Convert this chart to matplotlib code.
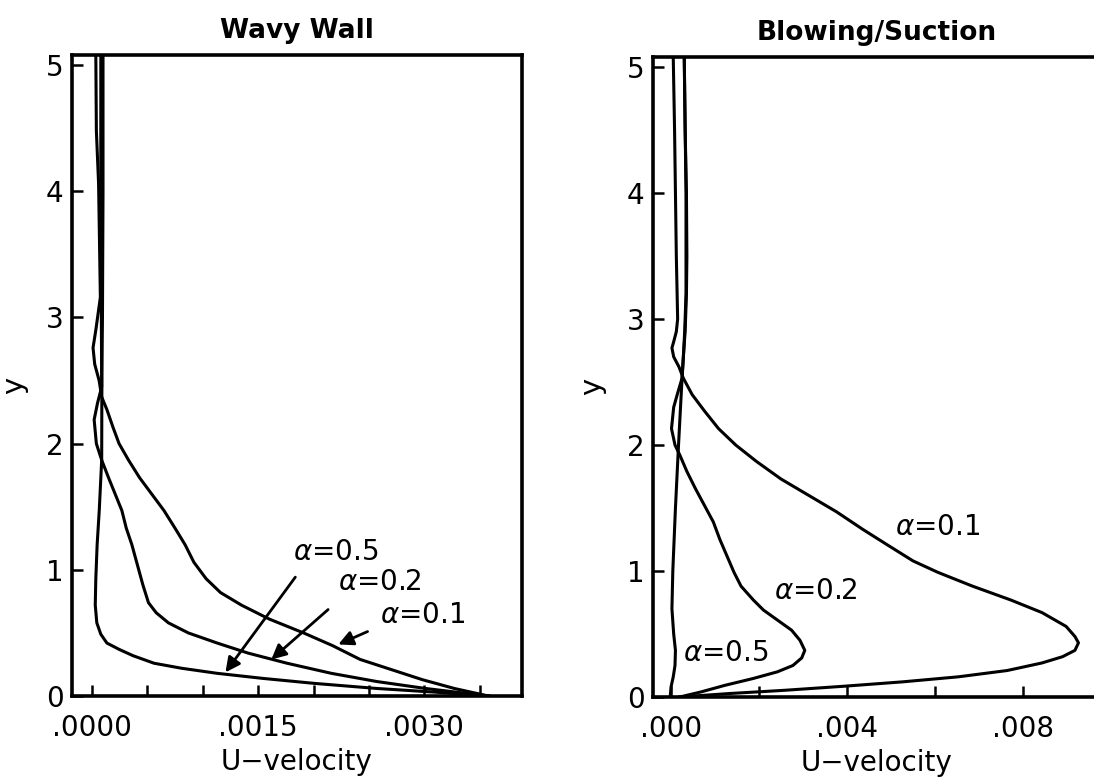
import matplotlib
matplotlib.use("Agg")
import matplotlib.pyplot as plt

plt.rcParams['font.family'] = ['DejaVu Sans']
plt.rcParams['mathtext.fontset'] = 'dejavusans'

# ---- Wavy wall profiles: (y, U) ----
wavy_y_01 = [5.08, 4.48, 4.06, 3.16, 2.9, 2.76, 2.63, 2.5, 2.37, 2.27, 2.13, 2.0, 1.87, 1.73, 1.60, 1.47, 1.33,
             1.20, 1.06, 0.93, 0.82, 0.72, 0.61, 0.50, 0.40, 0.29, 0.21, 0.13, 0.06, 0.0]
wavy_u_01 = [0.000035, 0.00004, 0.00006, 0.000076, 0.000035, 0.00001, 0.000025, 0.000065, 0.000088, 0.000135,
             0.00019, 0.000245, 0.00033, 0.00043, 0.00054, 0.00065, 0.00075, 0.00084, 0.00092, 0.00103, 0.00116,
             0.00135, 0.0016, 0.00191, 0.00217, 0.00242, 0.0027, 0.00298, 0.00327, 0.00358]

wavy_y_02 = [5.08, 4.0, 3.0, 2.45, 2.32, 2.19, 2.0, 1.87, 1.73, 1.60, 1.47, 1.33, 1.20, 1.04, 0.88, 0.74, 0.66,
             0.58, 0.50, 0.42, 0.34, 0.26, 0.18, 0.115, 0.06, 0.0]
wavy_u_02 = [0.00008, 0.00008, 0.000085, 0.000088, 0.00005, 0.00002, 0.00004, 0.000088, 0.00015, 0.00021, 0.00027,
             0.00031, 0.00036, 0.00041, 0.00046, 0.00051, 0.00058, 0.00069, 0.00087, 0.00113, 0.00141, 0.00176,
             0.00216, 0.00257, 0.00301, 0.00358]

wavy_y_05 = [5.08, 4.0, 3.0, 2.54, 1.87, 1.47, 1.20, 0.93, 0.72, 0.58, 0.49, 0.42, 0.37, 0.32, 0.26, 0.22, 0.18,
             0.14, 0.10, 0.06, 0.03, 0.0]
wavy_u_05 = [0.0001, 0.0001, 0.000095, 0.00009, 0.000088, 0.000066, 0.000047, 0.000035, 0.00003, 0.000044, 0.00008,
             0.000135, 0.000245, 0.00037, 0.00056, 0.00081, 0.00113, 0.00154, 0.00201, 0.00257, 0.00311, 0.00358]

# ---- Blowing/suction profiles ----
blow_y_01 = [5.08, 4.5, 4.0, 3.5, 3.0, 2.9, 2.82, 2.77, 2.7, 2.62, 2.53, 2.4, 2.27, 2.13, 2.0, 1.87, 1.73, 1.6,
             1.47, 1.33, 1.2, 1.08, 0.99, 0.88, 0.77, 0.67, 0.56, 0.48, 0.43, 0.37, 0.32, 0.27, 0.21, 0.16, 0.12,
             0.085, 0.053, 0.027, 0.0]
blow_u_01 = [0.00005, 0.00008, 0.0001, 0.00012, 0.00015, 0.00012, 0.00006, 0.00002, 0.00006, 0.00018, 0.00028,
             0.00048, 0.00076, 0.00108, 0.00147, 0.00194, 0.0025, 0.00313, 0.00376, 0.00436, 0.00495, 0.0055,
             0.00606, 0.00685, 0.00772, 0.00843, 0.00898, 0.00918, 0.00926, 0.00918, 0.0089, 0.00843, 0.00764,
             0.00653, 0.00526, 0.00392, 0.00258, 0.00131, 0.0002]

blow_y_02 = [5.08, 4.5, 4.0, 3.5, 3.2, 2.9, 2.7, 2.53, 2.4, 2.3, 2.13, 2.0, 1.92, 1.79, 1.65, 1.52, 1.39, 1.25,
             1.12, 0.99, 0.88, 0.77, 0.69, 0.61, 0.53, 0.45, 0.37, 0.31, 0.25, 0.2, 0.147, 0.093, 0.04, 0.0]
blow_u_02 = [0.0003, 0.00032, 0.00035, 0.00036, 0.00035, 0.00032, 0.00028, 0.00025, 0.00014, 0.00006, 0.00001,
             0.00009, 0.0002, 0.00036, 0.00056, 0.00076, 0.00096, 0.00111, 0.00127, 0.00143, 0.00159, 0.00187,
             0.0021, 0.00242, 0.00274, 0.00293, 0.00304, 0.00297, 0.00277, 0.00242, 0.00187, 0.00123, 0.00068,
             0.0002]

blow_y_05 = [5.08, 4.0, 3.2, 2.9, 2.7, 2.53, 2.0, 1.5, 1.0, 0.7, 0.5, 0.37, 0.25, 0.16, 0.08, 0.0]
blow_u_05 = [0.0003, 0.00034, 0.00034, 0.00031, 0.00028, 0.00025, 0.00017, 0.0001, 0.00004, 0.00002, 0.00006,
             0.0001, 0.00009, 0.00005, 0.0, -0.00002]

wavy_xticks = [0.0, 0.0005, 0.0010, 0.0015, 0.0020, 0.0025, 0.0030, 0.0035]
wavy_xlabels = ['.0000', '', '', '.0015', '', '', '.0030', '']
blow_xticks = [0.0, 0.002, 0.004, 0.006, 0.008]
blow_xlabels = ['.000', '', '.004', '', '.008']
yticks = [0, 1, 2, 3, 4, 5]

fig = plt.figure(figsize=(10.94, 7.84), dpi=100)
ax1 = fig.add_axes([0.0658, 0.1122, 0.4113, 0.8176])
ax2 = fig.add_axes([0.5969, 0.1110, 0.4086, 0.8163])

lw = 2.2
fs = 20


def style(ax, xticks, xlabels, xlim, title, ylab_x):
    ax.set_xlim(*xlim)
    ax.set_ylim(0, 5.08)
    ax.set_xticks(xticks)
    ax.set_xticklabels(xlabels)
    ax.set_yticks(yticks)
    ax.tick_params(direction='in', length=8, width=1.8, labelsize=fs,
                   top=False, right=False)
    ax.tick_params(axis='x', pad=13)
    ax.tick_params(axis='y', pad=6)
    for s in ax.spines.values():
        s.set_linewidth(2.6)
    ax.set_title(title, fontsize=19, fontweight='bold', pad=12)
    ax.set_xlabel('U\u2212velocity', fontsize=fs, labelpad=4)
    ax.set_ylabel('y', fontsize=21)
    ax.yaxis.set_label_coords(ylab_x, 0.485)


# left: wavy wall
for u, y in [(wavy_u_01, wavy_y_01), (wavy_u_02, wavy_y_02), (wavy_u_05, wavy_y_05)]:
    ax1.plot(u, y, color='black', lw=lw, solid_joinstyle='round')
style(ax1, wavy_xticks, wavy_xlabels, (-0.00018, 0.00388), 'Wavy Wall', -0.098)

arrowprops = dict(arrowstyle='-|>', color='black', lw=2.0, mutation_scale=22)
ax1.annotate('', xy=(0.00119, 0.17), xytext=(0.00185, 0.96), arrowprops=arrowprops)
ax1.annotate('', xy=(0.0016, 0.275), xytext=(0.00215, 0.70), arrowprops=arrowprops)
ax1.annotate('', xy=(0.0022, 0.40), xytext=(0.00251, 0.52), arrowprops=arrowprops)
ax1.text(0.0022, 1.14, r'$\alpha$=0.5', fontsize=fs, ha='center', va='center')
ax1.text(0.0026, 0.90, r'$\alpha$=0.2', fontsize=fs, ha='center', va='center')
ax1.text(0.00298, 0.64, r'$\alpha$=0.1', fontsize=fs, ha='center', va='center')

# right: blowing/suction
for u, y in [(blow_u_01, blow_y_01), (blow_u_02, blow_y_02), (blow_u_05, blow_y_05)]:
    ax2.plot(u, y, color='black', lw=lw, solid_joinstyle='round')
style(ax2, blow_xticks, blow_xlabels, (-0.00041, 0.00975), 'Blowing/Suction', -0.105)
ax2.text(0.00606, 1.35, r'$\alpha$=0.1', fontsize=fs, ha='center', va='center')
ax2.text(0.00329, 0.84, r'$\alpha$=0.2', fontsize=fs, ha='center', va='center')
ax2.text(0.00123, 0.35, r'$\alpha$=0.5', fontsize=fs, ha='center', va='center')

fig.savefig('out.png', dpi=100)
